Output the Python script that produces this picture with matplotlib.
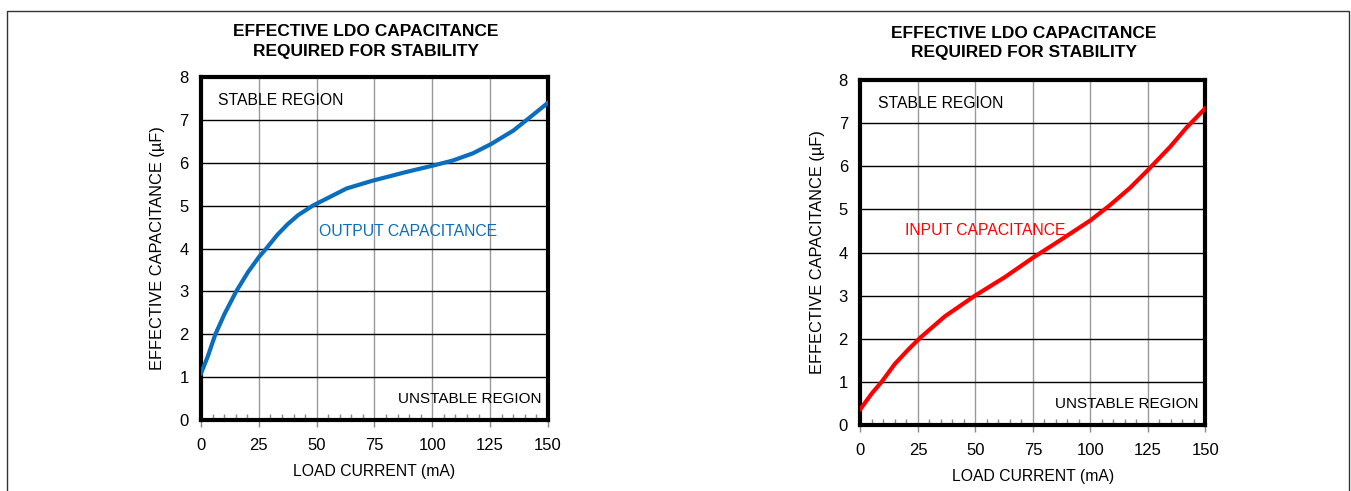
import matplotlib

matplotlib.use("Agg")
import matplotlib.pyplot as plt
from matplotlib.patches import Rectangle
from matplotlib.ticker import MultipleLocator

plt.rcParams["font.family"] = ["Liberation Sans", "DejaVu Sans"]

# values
out_current = [0, 2.9, 6.2, 10.2, 15.2, 20.3, 25, 28.2, 33, 37.3, 42, 48.3, 55.6, 62.9,
               74, 88.3, 100.7, 108.7, 117.5, 125.5, 135, 142.2, 150]
out_cap = [1.09, 1.48, 2.0, 2.48, 3.0, 3.45, 3.8, 4.0, 4.32, 4.56, 4.78, 5.0, 5.2, 5.4,
           5.58, 5.78, 5.94, 6.05, 6.22, 6.44, 6.75, 7.06, 7.4]

in_current = [0, 4.9, 9.2, 15, 20.8, 25.9, 36.7, 49.8, 62.8, 75, 86.7, 100.1, 108.5, 117.2,
              125.1, 134.6, 141.8, 150]
in_cap = [0.37, 0.73, 1.0, 1.42, 1.75, 2.02, 2.52, 3.0, 3.43, 3.88, 4.28, 4.75, 5.1, 5.5,
          5.92, 6.45, 6.9, 7.35]

x_ticks = [0, 25, 50, 75, 100, 125, 150]
y_ticks = [0, 1, 2, 3, 4, 5, 6, 7, 8]

title = "EFFECTIVE LDO CAPACITANCE\nREQUIRED FOR STABILITY"
BLUE = "#0A6EBD"
RED = "#FF0000"


def _panel(fig, rect, title_xy, x, y, color, label, label_xy):
    ax = fig.add_axes(rect)
    ax.plot(x, y, color=color, lw=3, solid_joinstyle="round", zorder=3)
    ax.set_xlim(0, 150)
    ax.set_ylim(0, 8)
    ax.set_xticks(x_ticks)
    ax.set_yticks(y_ticks)
    ax.xaxis.set_minor_locator(MultipleLocator(5))
    ax.tick_params(axis="x", which="major", direction="out", length=5, width=1,
                   color="#888888", labelsize=12, pad=8)
    ax.tick_params(axis="x", which="minor", direction="in", length=4, width=1, color="#888888")
    ax.tick_params(axis="y", length=0, labelsize=12, pad=9)
    ax.grid(axis="x", color="#999999", lw=1)
    ax.grid(axis="y", color="black", lw=1)
    for s in ax.spines.values():
        s.set_linewidth(3)
    ax.set_xlabel("LOAD CURRENT (mA)", fontsize=11.3, labelpad=8)
    ax.set_ylabel("EFFECTIVE CAPACITANCE (µF)", fontsize=11.8, labelpad=10)
    ax.text(7.5, 7.45, "STABLE REGION", fontsize=11.3, va="center", ha="left")
    ax.text(147, 0.48, "UNSTABLE REGION", fontsize=11, va="center", ha="right")
    ax.text(label_xy[0], label_xy[1], label, fontsize=11.3, va="center", ha="left", color=color)
    fig.text(title_xy[0], title_xy[1], title, fontsize=12.5, fontweight="bold",
             ha="center", va="center", linespacing=1.35)
    return ax


fig = plt.figure(figsize=(13.51, 4.91), dpi=100)
fig.patches.append(Rectangle((7 / 1351, -0.02), 1342 / 1351, 1.02 - 11 / 491,
                             transform=fig.transFigure, fill=False, lw=1, ec="#333333"))

_panel(fig, [0.1488, 0.1445, 0.2568, 0.6986], (366 / 1351, 1 - 41.5 / 491),
       out_current, out_cap, BLUE, "OUTPUT CAPACITANCE", (51, 4.4))
_panel(fig, [0.6369, 0.1344, 0.2554, 0.7026], (1024 / 1351, 1 - 43 / 491),
       in_current, in_cap, RED, "INPUT CAPACITANCE", (19.5, 4.52))

fig.savefig("out.png", dpi=100)
